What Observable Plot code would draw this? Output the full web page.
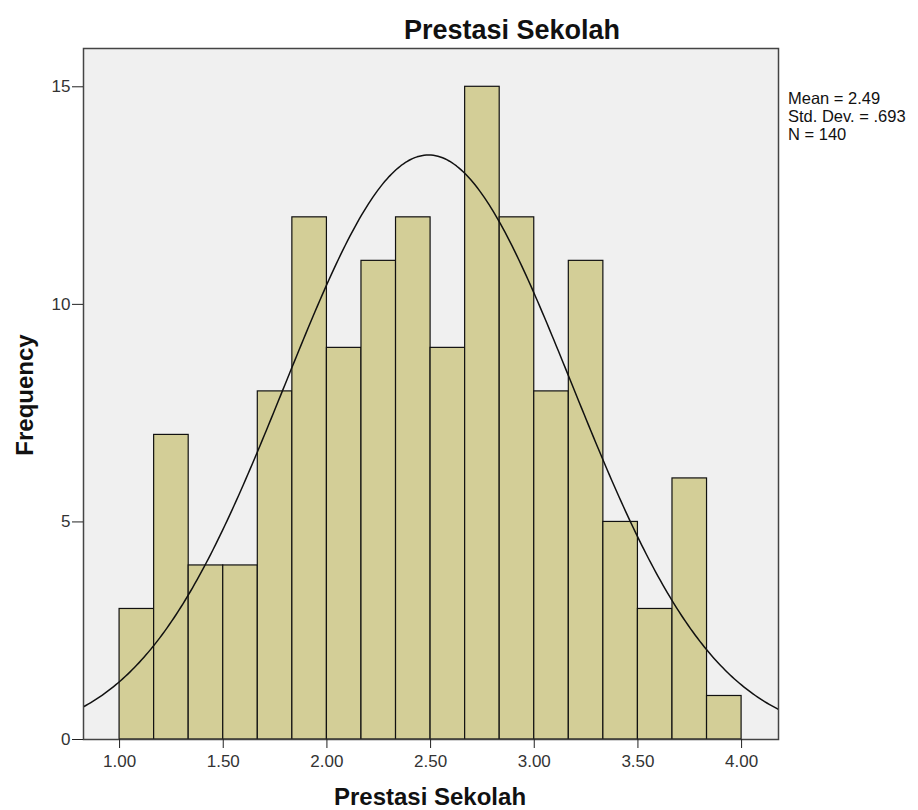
<!DOCTYPE html>
<html><head><meta charset="utf-8">
<script src="https://cdn.jsdelivr.net/npm/d3@7"></script>
<script src="https://cdn.jsdelivr.net/npm/@observablehq/plot@0.6"></script>
<style>body{margin:0;background:#fff} svg{display:block}</style>
</head><body><div id="chart"></div>
<script>
// Data
const counts = [3,7,4,4,8,12,9,11,12,9,15,12,8,11,5,3,6,1];
const binStart = 1.0, binEnd = 4.0;
const mean = 2.49, stdDev = 0.693, N = 140;
const xTicks = [1.0,1.5,2.0,2.5,3.0,3.5,4.0];
const yTicks = [0,5,10,15];
const statLines = ["Mean = 2.49", "Std. Dev. = .693", "N = 140"];
const titleText = "Prestasi Sekolah";
const xLabel = "Prestasi Sekolah";
const yLabel = "Frequency";

const xDomain = [0.826, 4.178];
const yDomain = [0, 15.88];

const w = (binEnd - binStart) / counts.length;
const bins = counts.map((c, i) => ({x1: binStart + i * w, x2: binStart + (i + 1) * w, count: c}));

// Fitted normal curve defined by the chart's own stats
const curve = d3.range(0, 301).map(i => {
  const x = xDomain[0] + (xDomain[1] - xDomain[0]) * i / 300;
  const z = (x - mean) / stdDev;
  return {x, y: N * w / (stdDev * Math.sqrt(2 * Math.PI)) * Math.exp(-0.5 * z * z)};
});

const font = "'Liberation Sans', Arial, sans-serif";
const chart = Plot.plot({
  width: 918, height: 810,
  marginLeft: 83, marginRight: 140, marginTop: 48, marginBottom: 71,
  style: {fontFamily: font, fontSize: "17px", background: "#fff", color: "#333"},
  x: {domain: xDomain},
  y: {domain: yDomain},
  marks: [
    Plot.frame({fill: "#f0f0f0"}),
    Plot.rectY(bins, {x1: "x1", x2: "x2", y: "count", fill: "#d3ce97", stroke: "#111", strokeWidth: 1.2}),
    Plot.line(curve, {x: "x", y: "y", stroke: "#111", strokeWidth: 1.5, clip: true}),
    Plot.frame({stroke: "#444", strokeWidth: 1.5}),
    Plot.axisX({ticks: xTicks, tickFormat: d3.format(".2f"), tickSize: 9, tickPadding: 6, label: null, fontSize: 17, stroke: "#222"}),
    Plot.axisY({ticks: yTicks, tickSize: 11, tickPadding: 2, label: null, fontSize: 17, stroke: "#222"})
  ]
});
document.getElementById("chart").appendChild(chart);

const svg = d3.select(chart);
svg.append("text").attr("x", 512).attr("y", 39).attr("text-anchor", "middle")
  .style("font", `bold 27px ${font}`).attr("fill", "#111").text(titleText);
svg.append("text").attr("x", 430).attr("y", 805).attr("text-anchor", "middle")
  .style("font", `bold 24px ${font}`).attr("fill", "#111").text(xLabel);
svg.append("text").attr("transform", "translate(33,395) rotate(-90)").attr("text-anchor", "middle")
  .style("font", `bold 24px ${font}`).attr("fill", "#111").text(yLabel);
statLines.forEach((s, i) => {
  svg.append("text").attr("x", 788).attr("y", 103.5 + i * 18).attr("text-anchor", "start")
    .style("font", `16.5px ${font}`).attr("fill", "#111").text(s);
});
</script></body></html>
